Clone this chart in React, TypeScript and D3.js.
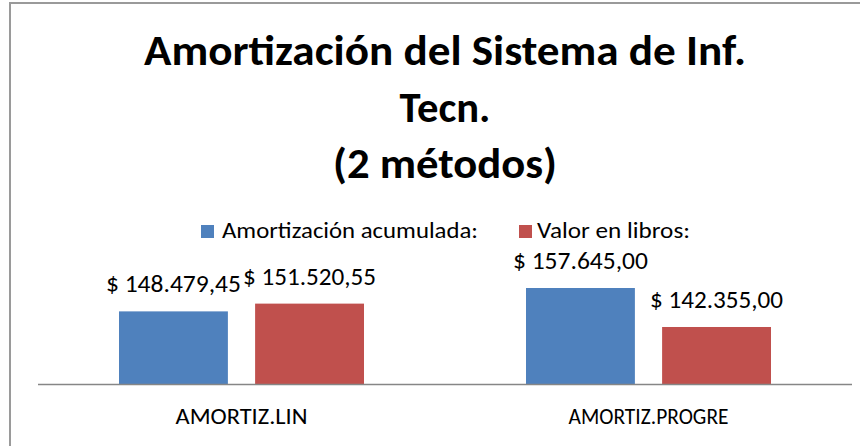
import React from "react";
import * as d3 from "d3";

const categories = ["AMORTIZ.LIN", "AMORTIZ.PROGRE"];
const seriesNames = ["Amortización acumulada:", "Valor en libros:"];
const amortAcumulada = [148479.45, 157645.0];
const valorLibros = [151520.55, 142355.0];
const valueLabels = [
  ["$ 148.479,45", "$ 157.645,00"],
  ["$ 151.520,55", "$ 142.355,00"],
];
const titleLines = ["Amortización del Sistema de Inf.", "Tecn.", "(2 métodos)"];
const yDomain = [120000, 160000];

const colors = ["#4F81BD", "#C0504D"];
const FONT = "Carlito, Calibri, Lato, 'Open Sans', sans-serif";

export default function App() {
  const W = 860;
  const H = 446;
  const plotLeft = 38;
  const plotRight = 852;
  const baseY = 384;
  const plotTop = 282;

  const x0 = d3.scaleBand<string>().domain(categories).range([plotLeft, plotRight]).padding(0);
  const groupInset = 81;
  const x1 = d3
    .scaleBand<number>()
    .domain([0, 1])
    .range([groupInset, x0.bandwidth() - groupInset])
    .paddingInner(0.2)
    .paddingOuter(0);
  const y = d3.scaleLinear().domain(yDomain).range([baseY, plotTop]);

  const series = [amortAcumulada, valorLibros];
  const labelWidths = [135, 133];
  const titleWidths = [602, 91, 224];
  const titleBaselines = [65, 121.5, 178];
  const cx = 445;

  return (
    <svg
      width={W}
      height={H}
      style={{ position: "absolute", left: 0, top: 0, background: "#fff" }}
      fontFamily={FONT}
    >
      <rect x={0} y={0} width={W} height={H} fill="#fff" />
      <rect x={10} y={3} width={880} height={470} fill="none" stroke="#9a9a9a" strokeWidth={2} />

      {titleLines.map((t, i) => (
        <text
          key={t}
          x={cx}
          y={titleBaselines[i]}
          textAnchor="middle"
          fontSize={43}
          fontWeight="bold"
          fill="#000"
          textLength={titleWidths[i]}
          lengthAdjust="spacingAndGlyphs"
        >
          {t}
        </text>
      ))}

      {/* Legend */}
      <rect x={201} y={225} width={13} height={13} fill={colors[0]} />
      <text x={222} y={238} fontSize={22} fill="#000" textLength={256} lengthAdjust="spacingAndGlyphs">
        {seriesNames[0]}
      </text>
      <rect x={519} y={225} width={13} height={13} fill={colors[1]} />
      <text x={537} y={238} fontSize={22} fill="#000" textLength={153} lengthAdjust="spacingAndGlyphs">
        {seriesNames[1]}
      </text>

      {/* Bars */}
      {categories.map((c, ci) =>
        series.map((s, si) => {
          const bx = (x0(c) ?? 0) + (x1(si) ?? 0);
          const bw = x1.bandwidth();
          const by = y(s[ci]);
          return (
            <g key={c + si}>
              <rect x={bx} y={by} width={bw} height={baseY - by} fill={colors[si]} />
              <text
                x={bx + bw / 2}
                y={by - 19}
                textAnchor="middle"
                fontSize={23.5}
                fill="#000"
                textLength={labelWidths[si]}
                lengthAdjust="spacingAndGlyphs"
              >
                {valueLabels[si][ci]}
              </text>
            </g>
          );
        })
      )}

      {/* Axis line */}
      <line x1={plotLeft} x2={plotRight} y1={baseY + 0.5} y2={baseY + 0.5} stroke="#868686" strokeWidth={1.5} />

      {/* Category labels */}
      {categories.map((c, i) => (
        <text
          key={c}
          x={(x0(c) ?? 0) + x0.bandwidth() / 2}
          y={424}
          textAnchor="middle"
          fontSize={23}
          fill="#000"
          textLength={i === 0 ? 132 : 160}
          lengthAdjust="spacingAndGlyphs"
        >
          {c}
        </text>
      ))}
    </svg>
  );
}
